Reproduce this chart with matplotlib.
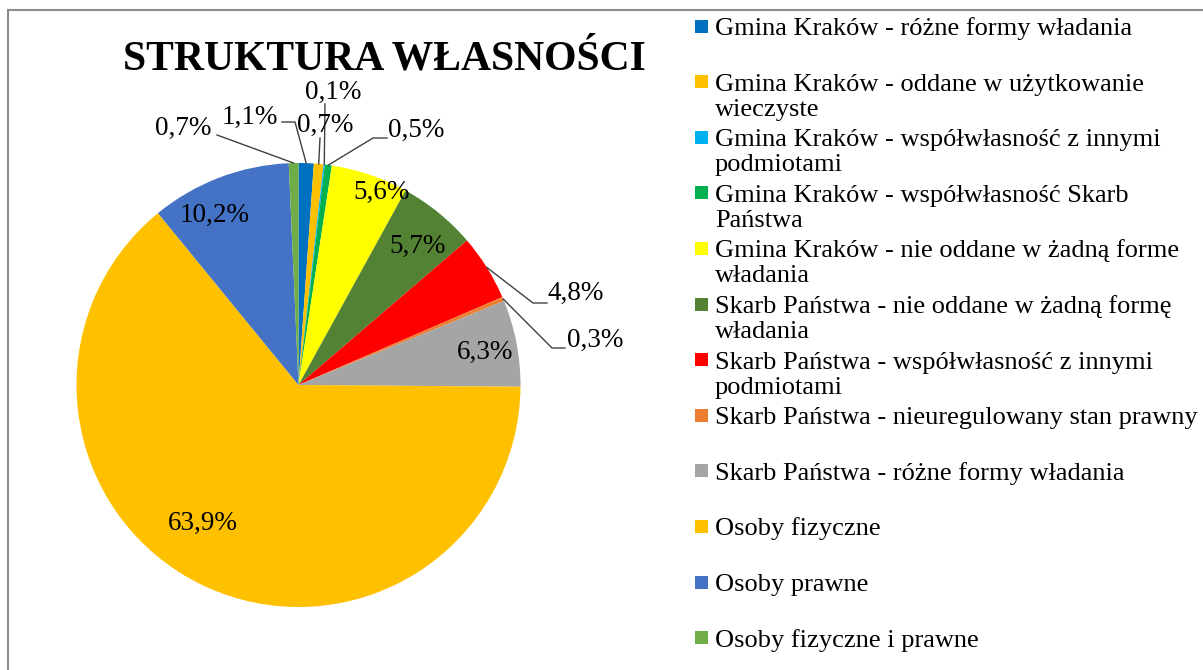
import numpy as np
import matplotlib
matplotlib.use("Agg")
import matplotlib.pyplot as plt
from matplotlib.patches import Rectangle

plt.rcParams["font.family"] = ["Liberation Serif", "DejaVu Serif"]

labels = [
    "Gmina Kraków - różne formy władania",
    "Gmina Kraków - oddane w użytkowanie\nwieczyste",
    "Gmina Kraków - współwłasność z innymi\npodmiotami",
    "Gmina Kraków - współwłasność Skarb\nPaństwa",
    "Gmina Kraków - nie oddane w żadną forme\nwładania",
    "Skarb Państwa - nie oddane w żadną formę\nwładania",
    "Skarb Państwa - współwłasność z innymi\npodmiotami",
    "Skarb Państwa - nieuregulowany stan prawny",
    "Skarb Państwa - różne formy władania",
    "Osoby fizyczne",
    "Osoby prawne",
    "Osoby fizyczne i prawne",
]
shares = [1.1, 0.7, 0.1, 0.5, 5.6, 5.7, 4.8, 0.3, 6.3, 63.9, 10.2, 0.7]
colors = ["#0070C0", "#FFC000", "#00B0F0", "#00B050", "#FFFF00", "#548235",
          "#FF0000", "#ED7D31", "#A5A5A5", "#FFC000", "#4472C4", "#70AD47"]

# pie geometry in pixels (center, radius)
W, H = 1203, 670
cx, cy, R = 298.5, 385, 222

# label placement in pixels: text center, leader-line points after the wedge edge
label_pos = {
    0: ((250, 117), [(295, 122), (282, 122)]),
    1: ((325, 125), [(320, 138)]),
    2: ((333, 92), [(325, 104)]),
    3: ((416, 130), [(373, 138), (387, 138)]),
    4: ((382, 192), None),
    5: ((418, 246), None),
    6: ((576, 293), [(533, 303), (547, 303)]),
    7: ((595, 340), [(552, 348), (565, 348)]),
    8: ((485, 352), None),
    9: ((203, 523), None),
    10: ((215, 215), None),
    11: ((183, 128), [(217, 135)]),
}


def px2d(p):
    return ((p[0] - cx) / R, (cy - p[1]) / R)


fig = plt.figure(figsize=(W / 100, H / 100), dpi=100)
ax = fig.add_axes([(cx - R) / W, (H - cy - R) / H, 2 * R / W, 2 * R / H])
wedges, _ = ax.pie(shares, colors=colors, startangle=90, counterclock=False,
                   radius=1, wedgeprops=dict(linewidth=0))
ax.set_xlim(-1, 1)
ax.set_ylim(-1, 1)
ax.set_aspect("equal")
ax.axis("off")

for i, w in enumerate(wedges):
    txt = f"{shares[i]:.1f}%".replace(".", ",")
    (tp, path) = label_pos[i]
    tx, ty = px2d(tp)
    ax.text(tx, ty, txt, ha="center", va="center", fontsize=19.5, color="#000000",
            clip_on=False)
    if path:
        mid = np.deg2rad((w.theta1 + w.theta2) / 2)
        pts = [(np.cos(mid), np.sin(mid))] + [px2d(p) for p in path]
        xs, ys = zip(*pts)
        ax.plot(xs, ys, color="#404040", lw=1.0, clip_on=False)

# overlay for title, legend and border, in pixel units
ov = fig.add_axes([0, 0, 1, 1], facecolor="none")
ov.set_xlim(0, W)
ov.set_ylim(H, 0)
ov.axis("off")

ov.text(384, 60, "STRUKTURA WŁASNOŚCI", ha="center", va="center",
        fontsize=30, fontweight="bold")

ov.plot([8, W], [10, 10], color="#8c8c8c", lw=1.5)
ov.plot([8, 8], [10, H], color="#8c8c8c", lw=1.5)

for i, lab in enumerate(labels):
    yc = 26 + 55.6 * i
    ov.add_patch(Rectangle((695, yc - 6.5), 13, 13, facecolor=colors[i], edgecolor="none"))
    for k, line in enumerate(lab.split("\n")):
        ov.text(715, yc + 9 + 25 * k, line, ha="left", va="baseline", fontsize=19)

fig.savefig("out.png", dpi=100)
